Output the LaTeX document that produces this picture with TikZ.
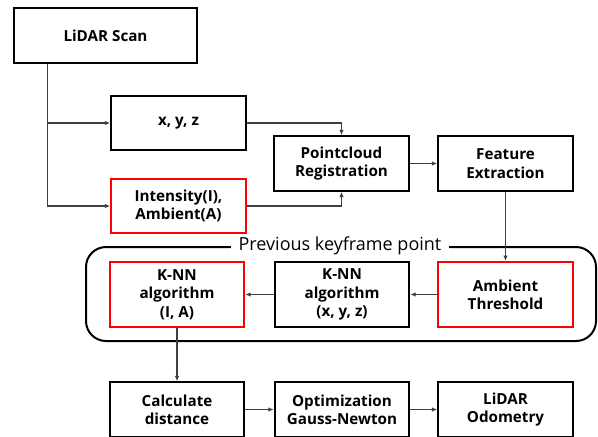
\documentclass[tikz,border=0pt]{standalone}
\usepackage{fontspec}
\setmainfont{Open Sans}
\usetikzlibrary{arrows.meta,positioning}

\begin{document}
\begin{tikzpicture}[x=0.75pt,y=-0.75pt,
	>={Latex[length=4pt,width=3.5pt]},
	box/.style={draw,line width=1.5pt,minimum width=101pt,minimum height=41pt,
		align=center,inner sep=0pt,font=\bfseries\fontsize{11.4}{13.8}\selectfont},
	redbox/.style={box,draw=red},
	tallbox/.style={minimum height=49pt},
	flow/.style={->,draw=black!75,line width=0.8pt}]
	\useasboundingbox (0,0) rectangle (598,436);
	% scan and its two parts
	\node [box,minimum width=137pt] (scan) at (105.5,35.5) {LiDAR Scan};
	\node [box] (xyz) at (178.5,123) {x, y, z};
	\node [redbox] (inten) at (178.5,206) {Intensity(I),\\Ambient(A)};
	\node [box] (pcr) at (341.5,163.5) {Pointcloud\\Registration};
	\node [box] (feat) at (505.5,163.5) {Feature\\Extraction};
	% previous keyframe point
	\draw [line width=1.5pt,rounded corners=15pt] (86,247) rectangle (596,341);
	\node [fill=white,inner xsep=6pt,inner ysep=0pt,font=\fontsize{13.5}{15}\selectfont] (prev) at (340,246) {Previous keyframe point};
	\node [redbox,tallbox] (knnia) at (177,294.5) {K-NN\\algorithm\\(I, A)};
	\node [box,tallbox] (knnxyz) at (342,294.5) {K-NN\\algorithm\\(x, y, z)};
	\node [redbox,tallbox] (ambth) at (505.5,294.5) {Ambient\\Threshold};
	% odometry
	\node [box] (calc) at (177,409.5) {Calculate\\distance};
	\node [box] (optim) at (342,409.5) {Optimization\\Gauss-Newton};
	\node [box] (odom) at (505.5,409.5) {LiDAR\\Odometry};
	% connectors
	\draw [flow] (scan.south west) ++(34,0) |- (xyz.west);
	\draw [flow] (scan.south west) ++(34,0) |- (inten.west);
	\draw [flow] (xyz.east) -| (pcr.north);
	\draw [flow] (inten.east) -| (pcr.south);
	\draw [flow] (pcr) -- (feat);
	\draw [flow] (feat.south) -- (ambth.north);
	\draw [flow] (ambth) -- (knnxyz);
	\draw [flow] (knnxyz) -- (knnia);
	\draw [flow] (knnia.south) -- (calc.north);
	\draw [flow] (calc) -- (optim);
	\draw [flow] (optim) -- (odom);
\end{tikzpicture}
\end{document}
